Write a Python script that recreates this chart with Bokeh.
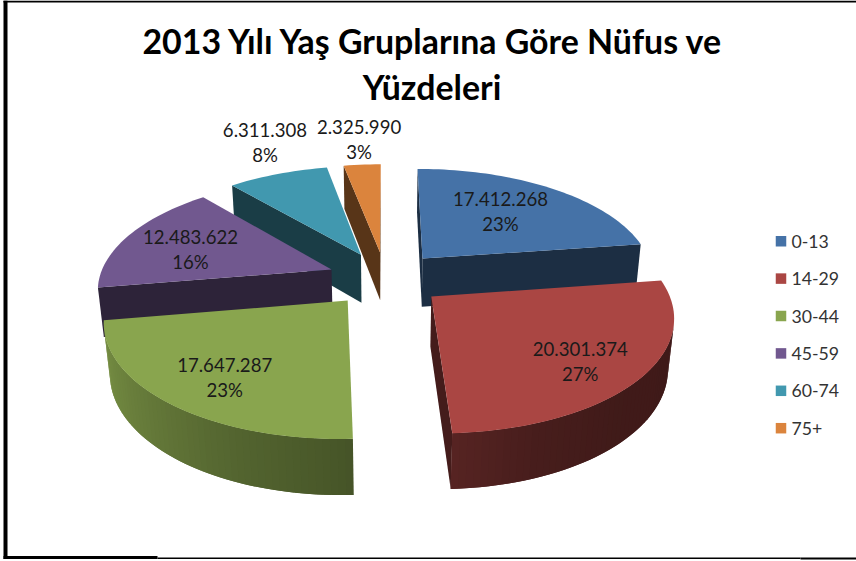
import numpy as np
from bokeh.plotting import figure
from bokeh.embed import file_html
from bokeh.resources import INLINE
from bokeh.models import Range1d, ColumnDataSource
from bokeh.core.properties import value

# ---- data ----
CATEGORIES = ["0-13", "14-29", "30-44", "45-59", "60-74", "75+"]
POPULATION = [17412268, 20301374, 17647287, 12483622, 6311308, 2325990]
COLORS = ["#4572A7", "#AA4643", "#89A54E", "#71588F", "#4198AF", "#DB843D"]
TITLE_LINES = ["2013 Yılı Yaş Gruplarına Göre Nüfus ve", "Yüzdeleri"]

# ---- layout: exploded 3D pie seen through a perspective camera ----
EXPLODE = 0.25
CAM_X = (232.5172, 59.8732, 384.9333, 8.0)     # u, v, 1, depth
CAM_Y = (-0.2276, -66.04533, 278.10856, 55.9)
CAM_W = (0.00002, 0.15566, 1.0, 0.0207)
DRAW_ORDER = [5, 4, 0, 3, 2, 1]
LABEL_OFFSET = [(78, -47), (149, 65), (-123, 77), (-141, -20), (-96, -112), (-21, -113)]
LINE_GAP = 25.0
SIDE_SHADE = 0.40
RIM_T = [0, 82, 140, 160, 180, 200, 230, 260, 360]
RIM_S = [0.36, 0.36, 0.38, 0.42, 0.52, 0.60, 0.75, 0.88, 0.88]


def project(u, v, z=0.0):
    w = CAM_W[0] * u + CAM_W[1] * v + CAM_W[2] + CAM_W[3] * z
    x = (CAM_X[0] * u + CAM_X[1] * v + CAM_X[2] + CAM_X[3] * z) / w
    y = (CAM_Y[0] * u + CAM_Y[1] * v + CAM_Y[2] + CAM_Y[3] * z) / w
    return x, y


def shade(hex_color, factor):
    rgb = [int(hex_color[i:i + 2], 16) for i in (1, 3, 5)]
    return "#%02x%02x%02x" % tuple(int(round(c * factor)) for c in rgb)


def area(xs, ys):
    xs, ys = np.asarray(xs), np.asarray(ys)
    return 0.5 * np.sum(xs * np.roll(ys, -1) - np.roll(xs, -1) * ys)


values = np.array(POPULATION, float)
frac = values / values.sum()
ends = np.cumsum(frac) * 2 * np.pi
starts = ends - frac * 2 * np.pi
mids = (starts + ends) / 2

pxs, pys, pcs = [], [], []
apex = {}


def add(xs, ys, c):
    pxs.append(list(xs))
    pys.append(list(ys))
    pcs.append(c)


for i in DRAW_ORDER:
    cu, cv = EXPLODE * np.sin(mids[i]), EXPLODE * np.cos(mids[i])
    apex[i] = project(cu, cv)
    ts = np.linspace(starts[i], ends[i], max(8, int(frac[i] * 240)))
    u, v = cu + np.sin(ts), cv + np.cos(ts)
    tx, ty = project(u, v)
    bx, by = project(u, v, 1.0)
    ax, ay = project(cu, cv)
    bax, bay = project(cu, cv, 1.0)
    dark = shade(COLORS[i], SIDE_SHADE)
    # radial faces, kept only when they turn towards the camera
    fx, fy = [ax, tx[0], bx[0], bax], [ay, ty[0], by[0], bay]
    if area(fx, fy) < 0:
        add(fx, fy, dark)
    fx, fy = [ax, tx[-1], bx[-1], bax], [ay, ty[-1], by[-1], bay]
    if area(fx, fy) > 0:
        add(fx, fy, dark)
    # outer rim strips: each one overlaps its neighbour so no seam shows
    n = len(ts)
    for k in range(n - 1):
        k2 = min(k + 2, n - 1)
        qx = [tx[k], tx[k2], bx[k2], bx[k]]
        qy = [ty[k], ty[k2], by[k2], by[k]]
        if area(qx, qy) < 0:
            add(qx, qy, shade(COLORS[i], np.interp(np.degrees((ts[k] + ts[k + 1]) / 2), RIM_T, RIM_S)))
    # top face
    add([ax, *tx], [ay, *ty], COLORS[i])

p = figure(width=856, height=561, x_range=Range1d(0, 856), y_range=Range1d(561, 0),
           toolbar_location=None, output_backend="svg", min_border=0)
p.axis.visible = False
p.grid.visible = False
p.outline_line_color = None
p.margin = (0, 0, 0, 0)

# frame
p.quad(left=[3, 3, 157, 800], right=[7, 157, 800, 856], top=[0, 555.5, 557, 557], bottom=[558.5, 558.5, 558.5, 559],
       fill_color="black", line_color=None)
p.quad(left=[3], right=[856], top=[0], bottom=[2], fill_color="black", line_color=None)

p.patches("xs", "ys", source=ColumnDataSource(dict(xs=pxs, ys=pys, c=pcs)),
          fill_color="c", line_color=None)

# title
p.text(x=[433, 431.5], y=[40, 86], text=TITLE_LINES, text_align="center", text_baseline="middle",
       text_font=value("Lato"), text_font_style="bold", text_font_size="33.9px", text_color="black")

# data labels
lx, ly, lt = [], [], []
for i, (dx, dy) in enumerate(LABEL_OFFSET):
    cx, cy = apex[i][0] + dx, apex[i][1] + dy
    lx += [cx, cx]
    ly += [cy - LINE_GAP / 2, cy + LINE_GAP / 2]
    lt += [f"{POPULATION[i]:,}".replace(",", "."), f"{round(100 * frac[i])}%"]
p.text(x=lx, y=ly, text=lt, text_align="center", text_baseline="middle",
       text_font=value("Lato"), text_font_size="18.6px", text_color="#1a1a1a")

# legend
ly0 = 240.7 + 37.4 * np.arange(len(CATEGORIES))
p.scatter(x=[780.5] * len(CATEGORIES), y=ly0, marker="square", size=10.5, fill_color=COLORS, line_color=None)
p.text(x=[791] * len(CATEGORIES), y=ly0, text=CATEGORIES, text_baseline="middle",
       text_font=value("Lato"), text_font_size="17.7px", text_color="#333333")

open("out.html", "w").write(file_html(p, INLINE))
